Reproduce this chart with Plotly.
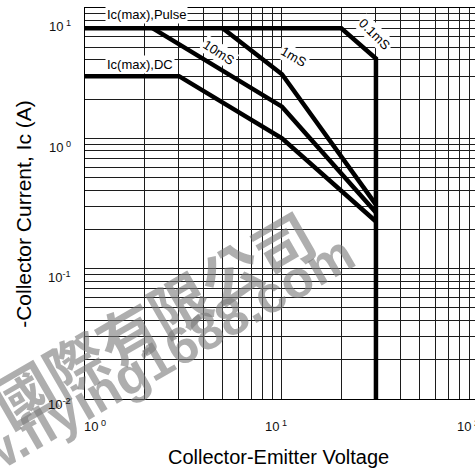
import math
import plotly.graph_objects as go

# Safe operating area: collector-emitter voltage (V) vs collector current (A)
V_PULSE_01MS = [1, 20, 30, 30]
I_PULSE_01MS = [7, 7, 4.1, 0.01]
V_1MS = [5, 10, 30]
I_1MS = [7, 3.1, 0.31]
V_10MS = [2.2, 10, 30]
I_10MS = [7, 1.75, 0.27]
V_DC = [1, 3, 10, 30]
I_DC = [3, 3, 1.0, 0.23]

CURVE_LABELS = ["Ic(max),Pulse", "Ic(max),DC", "10mS", "1mS", "0.1mS"]

X_TICK_VALUES = [1, 10, 100]
X_TICK_TEXT = ["10<sup> 0</sup>", "10<sup> 1</sup>", "10<sup> 2</sup>"]
Y_TICK_VALUES = [10, 1, 0.1, 0.01]
Y_TICK_TEXT = ["10<sup> 1</sup>", "10<sup> 0</sup>", "10<sup>-1</sup>", "10<sup>-2</sup>"]

X_TITLE = "Collector-Emitter Voltage"
Y_TITLE = "-Collector Current, Ic (A)"

# label anchor points (V, A) and text rotation
LABEL_POS = [(2.06, 8.84), (1.90, 3.71), (4.79, 4.59), (11.4, 4.21), (29.7, 6.31)]
LABEL_ANGLE = [0, 0, 33, 30, 45]

# pixel nudges for the hand-placed tick labels
X_LABEL_SHIFT = [10, -6, -11]
Y_LABEL_SHIFT = [-18, -9, -8, -5]

FONT = "Liberation Sans, Arial, sans-serif"
X_RANGE = [0, 1.98]
Y_RANGE = [-2, 1]

fig = go.Figure()

for v, i in [(V_PULSE_01MS, I_PULSE_01MS), (V_1MS, I_1MS),
             (V_10MS, I_10MS), (V_DC, I_DC)]:
    fig.add_trace(go.Scatter(
        x=v, y=i, mode="lines",
        line=dict(color="black", width=4.5),
        hoverinfo="skip", showlegend=False,
    ))

# log grid: every 1..9 multiple of each decade
grid_vals = [m * 10.0 ** k for k in range(-2, 3) for m in range(1, 10)]

axis_common = dict(
    type="log", tickvals=grid_vals, showticklabels=False, ticks="",
    showgrid=True, gridcolor="#1c1c1c", gridwidth=1,
    showline=True, linecolor="black", linewidth=1, zeroline=False,
)
fig.update_xaxes(range=X_RANGE, mirror=True, **axis_common)
fig.update_yaxes(range=Y_RANGE, mirror=False, **axis_common)

annotations = []

# faint diagonal company watermark (drawn first, under the labels)
annotations.append(dict(
    x=0.172, y=0.21, xref="paper", yref="paper", text="<b>國際有限公司</b>",
    showarrow=False, textangle=-30, xanchor="center", yanchor="middle",
    font=dict(family="Noto Sans CJK TC", size=60, color="rgba(120,120,120,0.6)"),
))
annotations.append(dict(
    x=0.112, y=0.059, xref="paper", yref="paper", text="<b>www.flying1688.com</b>",
    showarrow=False, textangle=-30, xanchor="center", yanchor="middle",
    font=dict(family=FONT, size=52, color="rgba(120,120,120,0.6)"),
))

# curve labels with white boxes over the grid
for text, (v, i), ang in zip(CURVE_LABELS, LABEL_POS, LABEL_ANGLE):
    annotations.append(dict(
        x=math.log10(v), y=math.log10(i), xref="x", yref="y",
        text=text, showarrow=False, textangle=ang,
        xanchor="center", yanchor="middle",
        font=dict(family=FONT, size=13, color="black"),
        bgcolor="white", borderpad=1,
    ))

# x tick labels (placed along the axis fraction so the last one can sit at the edge)
for v, t, dx in zip(X_TICK_VALUES, X_TICK_TEXT, X_LABEL_SHIFT):
    frac = (math.log10(v) - X_RANGE[0]) / (X_RANGE[1] - X_RANGE[0])
    annotations.append(dict(
        x=frac, y=0, xref="paper", yref="paper", text=t, showarrow=False,
        xanchor="center", yanchor="top", xshift=dx, yshift=-17,
        font=dict(family=FONT, size=13, color="#111"),
    ))

# y tick labels
for v, t, dy in zip(Y_TICK_VALUES, Y_TICK_TEXT, Y_LABEL_SHIFT):
    annotations.append(dict(
        x=0, y=math.log10(v), xref="paper", yref="y", text=t, showarrow=False,
        xanchor="right", yanchor="middle", xshift=-12, yshift=dy,
        font=dict(family=FONT, size=13, color="#111"),
    ))

# axis titles
annotations.append(dict(
    x=0.495, y=-0.148, xref="paper", yref="paper", text=X_TITLE,
    showarrow=False, xanchor="center", yanchor="middle",
    font=dict(family=FONT, size=20, color="black"),
))
annotations.append(dict(
    x=-0.156, y=0.474, xref="paper", yref="paper", text=Y_TITLE,
    showarrow=False, xanchor="center", yanchor="middle", textangle=-90,
    font=dict(family=FONT, size=21, color="black"),
))

fig.update_layout(
    width=475, height=470,
    margin=dict(l=85, r=0, t=8, b=71),
    paper_bgcolor="white", plot_bgcolor="white",
    annotations=annotations,
    showlegend=False,
)

fig.write_html("out.html")
